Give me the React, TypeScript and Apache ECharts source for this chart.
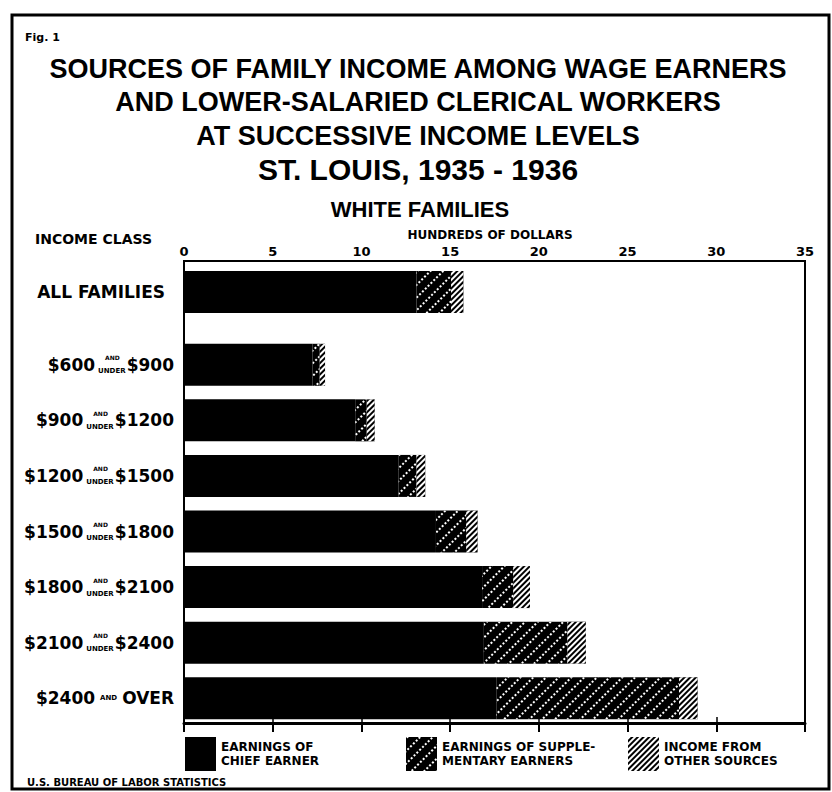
import React, { useEffect, useRef } from 'react';
import * as echarts from 'echarts';

// ---- data (hundreds of dollars) ----
const allFamiliesLabel = ['ALL FAMILIES'];
const allChief = [13.1];
const allSupplementary = [1.95];
const allOther = [0.7];

const classLow = ['$600', '$900', '$1200', '$1500', '$1800', '$2100', '$2400'];
const classHigh = ['$900', '$1200', '$1500', '$1800', '$2100', '$2400', 'OVER'];
const chiefEarner = [7.25, 9.65, 12.1, 14.2, 16.8, 16.9, 17.6];
const supplementaryEarners = [0.4, 0.65, 1.0, 1.7, 1.75, 4.7, 10.3];
const otherSources = [0.3, 0.45, 0.5, 0.65, 0.95, 1.05, 1.05];

const axisMin = 0;
const axisMax = 35;
const axisInterval = 5;

const seriesNames = [
  'EARNINGS OF\nCHIEF EARNER',
  'EARNINGS OF SUPPLE-\nMENTARY EARNERS',
  'INCOME FROM\nOTHER SOURCES',
];

const titleLines = [
  'SOURCES OF FAMILY INCOME AMONG WAGE EARNERS',
  'AND LOWER-SALARIED CLERICAL WORKERS',
  'AT SUCCESSIVE INCOME LEVELS',
  'ST. LOUIS, 1935 - 1936',
];

const FONT = '"DejaVu Sans", sans-serif';
const TITLE_FONT = '"Liberation Sans", Arial, sans-serif';

const categories = classLow.map((lo, i) => `${lo}|${classHigh[i]}`);

const chiefDecal = { symbol: 'none' };
const suppDecal = {
  symbol: 'rect',
  symbolSize: 1,
  color: '#fff',
  dashArrayX: [2, 2],
  dashArrayY: [2, 7],
  rotation: -Math.PI / 4,
};
const otherDecal = {
  symbol: 'rect',
  symbolSize: 1,
  color: '#fff',
  dashArrayX: [1, 0],
  dashArrayY: [2, 2],
  rotation: -Math.PI / 4,
};

export default function App() {
  const ref = useRef<HTMLDivElement>(null);
  useEffect(() => {
    if (!ref.current) return;
    const chart = echarts.init(ref.current, undefined, { renderer: 'svg' });
    const barBase = { type: 'bar', barWidth: 42, stack: 's' };
    const legendLefts = [185, 406, 628];
    const titleYs = [69, 102, 136, 169];
    const tiny = { color: '#000', fontFamily: FONT, fontWeight: 'bold', align: 'left' };
    const option: any = {
      animation: false,
      backgroundColor: '#fff',
      aria: { enabled: true, decal: { show: true } },
      legend: seriesNames.map((n, i) => ({
        data: [n],
        left: legendLefts[i],
        top: 737,
        padding: 0,
        icon: 'rect',
        itemWidth: 31,
        itemHeight: 34,
        itemGap: 0,
        selectedMode: false,
        textStyle: { fontFamily: FONT, fontWeight: 'bold', fontSize: 12, lineHeight: 14, color: '#000' },
      })),
      grid: [
        { left: 184, top: 261, width: 621, height: 462, show: true, borderColor: '#000', borderWidth: 2 },
        { left: 184, top: 261, width: 621, height: 62 },
        { left: 184, top: 337, width: 621, height: 389 },
      ],
      xAxis: [
        {
          gridIndex: 0, type: 'value', position: 'top', min: axisMin, max: axisMax, interval: axisInterval,
          axisLine: { show: true, lineStyle: { color: '#000', width: 3 } },
          axisTick: { show: true, inside: true, length: 9, lineStyle: { color: '#000', width: 2 } },
          axisLabel: { color: '#000', fontFamily: FONT, fontWeight: 'bold', fontSize: 13, margin: 3 },
          splitLine: { show: false },
        },
        {
          gridIndex: 0, type: 'value', position: 'bottom', min: axisMin, max: axisMax, interval: axisInterval,
          axisLine: { show: true, lineStyle: { color: '#000', width: 2 } },
          axisTick: { show: true, inside: true, length: 6, lineStyle: { color: '#000', width: 1.5 } },
          axisLabel: { show: false },
          splitLine: { show: false },
        },
        { gridIndex: 1, type: 'value', min: axisMin, max: axisMax, show: false },
        { gridIndex: 2, type: 'value', min: axisMin, max: axisMax, show: false },
      ],
      yAxis: [
        { gridIndex: 0, type: 'value', show: false, min: 0, max: 1 },
        {
          gridIndex: 1, type: 'category', data: allFamiliesLabel,
          axisLine: { show: false }, axisTick: { show: false },
          axisLabel: { color: '#000', fontFamily: FONT, fontWeight: 'bold', fontSize: 17, margin: 19 },
        },
        {
          gridIndex: 2, type: 'category', data: categories, inverse: true,
          axisLine: { show: false }, axisTick: { show: false },
          axisLabel: {
            margin: 10,
            formatter: (v: string) => {
              const [lo, hi] = v.split('|');
              if (hi === 'OVER') return `{b|${lo}}{t|AND}{b|OVER}`;
              return `{b|${lo}}{u|UNDER}{a|AND}{b|${hi}}`;
            },
            rich: {
              b: { ...tiny, fontSize: 17, lineHeight: 20 },
              u: { ...tiny, fontSize: 7, width: 0, padding: [0, 0, 0, 3], verticalAlign: 'bottom', lineHeight: 9 },
              a: { ...tiny, fontSize: 6, padding: [0, 7, 0, 7], verticalAlign: 'top', lineHeight: 8 },
              t: { ...tiny, fontSize: 7, padding: [0, 5, 0, 5] },
            },
          },
        },
      ],
      series: [
        { ...barBase, name: seriesNames[0], xAxisIndex: 3, yAxisIndex: 2, data: chiefEarner, itemStyle: { color: '#000', decal: chiefDecal } },
        { ...barBase, name: seriesNames[1], xAxisIndex: 3, yAxisIndex: 2, data: supplementaryEarners, itemStyle: { color: '#000', decal: suppDecal } },
        { ...barBase, name: seriesNames[2], xAxisIndex: 3, yAxisIndex: 2, data: otherSources, itemStyle: { color: '#000', decal: otherDecal } },
        { ...barBase, stack: 'all', name: seriesNames[0], xAxisIndex: 2, yAxisIndex: 1, data: allChief, itemStyle: { color: '#000', decal: chiefDecal } },
        { ...barBase, stack: 'all', name: seriesNames[1], xAxisIndex: 2, yAxisIndex: 1, data: allSupplementary, itemStyle: { color: '#000', decal: suppDecal } },
        { ...barBase, stack: 'all', name: seriesNames[2], xAxisIndex: 2, yAxisIndex: 1, data: allOther, itemStyle: { color: '#000', decal: otherDecal } },
      ],
      graphic: [
        { type: 'rect', shape: { x: 12, y: 15, width: 817, height: 774 }, style: { fill: 'none', stroke: '#000', lineWidth: 3 }, silent: true },
        { type: 'text', x: 25, y: 37, style: { text: 'Fig. 1', fontFamily: FONT, fontWeight: 'bold', fontSize: 11, fill: '#000', textVerticalAlign: 'middle' } },
        ...titleLines.map((t, i) => ({
          type: 'text', x: 418, y: titleYs[i],
          style: { text: t, fontFamily: TITLE_FONT, fontWeight: 'bold', fontSize: i === 3 ? 30 : 27, fill: '#000', textAlign: 'center', textVerticalAlign: 'middle' },
        })),
        { type: 'text', x: 420, y: 209, style: { text: 'WHITE FAMILIES', fontFamily: TITLE_FONT, fontWeight: 'bold', fontSize: 22, fill: '#000', textAlign: 'center', textVerticalAlign: 'middle' } },
        { type: 'text', x: 490, y: 235, style: { text: 'HUNDREDS OF DOLLARS', fontFamily: FONT, fontWeight: 'bold', fontSize: 12, fill: '#000', textAlign: 'center', textVerticalAlign: 'middle' } },
        { type: 'text', x: 35, y: 239, style: { text: 'INCOME CLASS', fontFamily: FONT, fontWeight: 'bold', fontSize: 14, fill: '#000', textVerticalAlign: 'middle' } },
        { type: 'text', x: 27, y: 782, style: { text: 'U.S. BUREAU OF LABOR STATISTICS', fontFamily: FONT, fontWeight: 'bold', fontSize: 10, fill: '#000', textVerticalAlign: 'middle' } },
      ],
    };
    chart.setOption(option);
    return () => chart.dispose();
  }, []);
  return <div ref={ref} style={{ position: 'fixed', left: 0, top: 0, width: 832, height: 792 }} />;
}
